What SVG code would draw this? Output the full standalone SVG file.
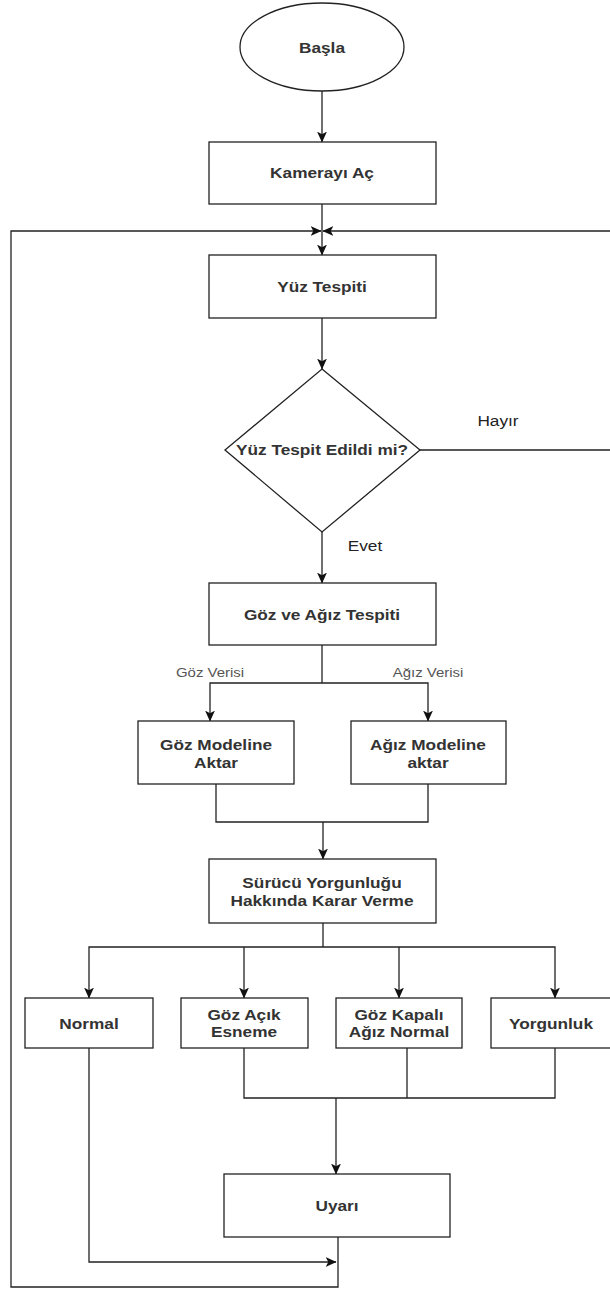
<svg xmlns="http://www.w3.org/2000/svg" width="610" height="1291" viewBox="0 0 610 1291">
  <style>
    .shape { fill: #ffffff; stroke: #222222; stroke-width: 1.3; }
    .edge { fill: none; stroke: #222222; stroke-width: 1.3; }
    .arrow { marker-end: url(#head); }
    .lbl { font-family: "Liberation Sans", Arial, sans-serif; font-size: 15px; font-weight: bold; fill: #333333; text-anchor: middle; }
    .cond { font-family: "Liberation Sans", Arial, sans-serif; font-size: 15px; fill: #222222; text-anchor: middle; }
    .data { font-family: "Liberation Sans", Arial, sans-serif; font-size: 13px; fill: #555555; text-anchor: middle; }
  </style>
  <defs>
    <marker id="head" markerUnits="userSpaceOnUse" markerWidth="11" markerHeight="11" viewBox="0 0 10 10" refX="9.5" refY="5" orient="auto">
      <path d="M0,0.5 L10,5 L0,9.5 L2.5,5 Z" fill="#111111"/>
    </marker>
  </defs>
  <rect width="610" height="1291" fill="#ffffff"/>

  <!-- connectors -->
  <g id="connectors">
    <line class="edge arrow" x1="322" y1="91" x2="322" y2="142"/>
    <line class="edge arrow" x1="322" y1="204" x2="322" y2="255"/>
    <line class="edge arrow" x1="322" y1="318" x2="322" y2="369"/>
    <!-- "Hayır" branch back to face detection -->
    <polyline class="edge arrow" points="420,450 613,450 613,231 323,231"/>
    <line class="edge arrow" x1="322" y1="532" x2="322" y2="583"/>
    <!-- split to eye / mouth models -->
    <polyline class="edge" points="322,645 322,683"/>
    <polyline class="edge arrow" points="322,683 210,683 210,721"/>
    <polyline class="edge arrow" points="322,683 428,683 428,721"/>
    <!-- merge of model outputs -->
    <polyline class="edge" points="216,784 216,822 428,822 428,784"/>
    <line class="edge arrow" x1="323" y1="822" x2="323" y2="859"/>
    <!-- decision fan-out -->
    <polyline class="edge" points="323,923 323,947"/>
    <polyline class="edge arrow" points="323,947 89,947 89,998"/>
    <polyline class="edge arrow" points="244,947 244,998"/>
    <polyline class="edge arrow" points="399,947 399,998"/>
    <polyline class="edge arrow" points="323,947 555,947 555,998"/>
    <!-- warning states merge -->
    <polyline class="edge" points="244,1048 244,1098 555,1098 555,1048"/>
    <line class="edge" x1="407" y1="1048" x2="407" y2="1098"/>
    <line class="edge arrow" x1="336" y1="1098" x2="336" y2="1174"/>
    <!-- normal state bypass -->
    <polyline class="edge arrow" points="89,1048 89,1262 336,1262"/>
    <!-- loop back to face detection -->
    <polyline class="edge arrow" points="338,1237 338,1287 11,1287 11,231 321,231"/>
  </g>

  <g id="start">
    <ellipse class="shape" cx="322" cy="47" rx="82" ry="44"/>
    <text class="lbl" transform="translate(322,53) scale(1.15,1)">Başla</text>
  </g>

  <g id="camera">
    <rect class="shape" x="209" y="142" width="227" height="62"/>
    <text class="lbl" transform="translate(322,178) scale(1.15,1)">Kamerayı Aç</text>
  </g>

  <g id="face-detect">
    <rect class="shape" x="209" y="255" width="227" height="63"/>
    <text class="lbl" transform="translate(322,292) scale(1.15,1)">Yüz Tespiti</text>
  </g>

  <g id="face-found">
    <polygon class="shape" points="322,369 420,450 322,532 225,450"/>
    <text class="lbl" transform="translate(322,455) scale(1.15,1)">Yüz Tespit Edildi mi?</text>
  </g>

  <g id="edge-labels">
    <text class="cond" transform="translate(498,426) scale(1.15,1)">Hayır</text>
    <text class="cond" transform="translate(365,551) scale(1.15,1)">Evet</text>
    <text class="data" transform="translate(210,677) scale(1.15,1)">Göz Verisi</text>
    <text class="data" transform="translate(428,677) scale(1.15,1)">Ağız Verisi</text>
  </g>

  <g id="eye-mouth-detect">
    <rect class="shape" x="209" y="583" width="227" height="62"/>
    <text class="lbl" transform="translate(322,620) scale(1.15,1)">Göz ve Ağız Tespiti</text>
  </g>

  <g id="eye-model">
    <rect class="shape" x="138" y="721" width="156" height="63"/>
    <text class="lbl" transform="translate(216,750) scale(1.15,1)">Göz Modeline</text>
    <text class="lbl" transform="translate(216,768) scale(1.15,1)">Aktar</text>
  </g>

  <g id="mouth-model">
    <rect class="shape" x="351" y="721" width="155" height="63"/>
    <text class="lbl" transform="translate(428,750) scale(1.15,1)">Ağız Modeline</text>
    <text class="lbl" transform="translate(428,768) scale(1.15,1)">aktar</text>
  </g>

  <g id="fatigue-decision">
    <rect class="shape" x="209" y="859" width="227" height="64"/>
    <text class="lbl" transform="translate(322,888) scale(1.15,1)">Sürücü Yorgunluğu</text>
    <text class="lbl" transform="translate(322,906) scale(1.15,1)">Hakkında Karar Verme</text>
  </g>

  <g id="state-normal">
    <rect class="shape" x="25" y="998" width="128" height="50"/>
    <text class="lbl" transform="translate(89,1029) scale(1.15,1)">Normal</text>
  </g>

  <g id="state-yawn">
    <rect class="shape" x="181" y="998" width="127" height="50"/>
    <text class="lbl" transform="translate(244,1020) scale(1.15,1)">Göz Açık</text>
    <text class="lbl" transform="translate(244,1037) scale(1.15,1)">Esneme</text>
  </g>

  <g id="state-eyes-closed">
    <rect class="shape" x="336" y="998" width="126" height="50"/>
    <text class="lbl" transform="translate(399,1020) scale(1.15,1)">Göz Kapalı</text>
    <text class="lbl" transform="translate(399,1037) scale(1.15,1)">Ağız Normal</text>
  </g>

  <g id="state-tired">
    <rect class="shape" x="491" y="998" width="122" height="50"/>
    <text class="lbl" transform="translate(551,1029) scale(1.15,1)">Yorgunluk</text>
  </g>

  <g id="alert">
    <rect class="shape" x="224" y="1174" width="226" height="63"/>
    <text class="lbl" transform="translate(337,1211) scale(1.15,1)">Uyarı</text>
  </g>
</svg>
